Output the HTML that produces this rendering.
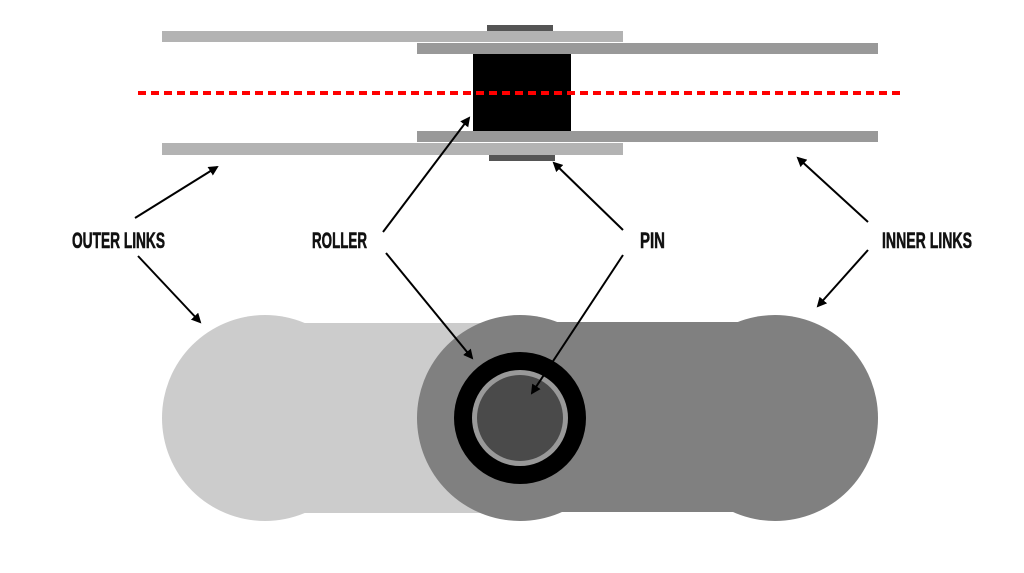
<!DOCTYPE html>
<html><head><style>
html,body{margin:0;padding:0;background:#fff;}
svg{display:block;}
text{font-family:"Liberation Sans Narrow","Liberation Sans",sans-serif;font-weight:bold;font-size:22px;fill:#111;stroke:#111;stroke-width:0.6;}
</style></head><body>
<svg width="1024" height="573" viewBox="0 0 1024 573" xmlns="http://www.w3.org/2000/svg">
<defs>
<marker id="ah" markerWidth="10" markerHeight="10" refX="8" refY="5" orient="auto" markerUnits="userSpaceOnUse">
<path d="M0,0 L10,5 L0,10 z" fill="#000"/>
</marker>
</defs>
<rect x="487" y="25" width="66" height="7" fill="#555"/>
<rect x="489" y="155" width="66" height="6" fill="#555"/>
<rect x="162" y="31" width="461" height="11" fill="#b3b3b3"/>
<rect x="417" y="43" width="461" height="11" fill="#999"/>
<rect x="473" y="54" width="98" height="77" fill="#000"/>
<rect x="417" y="131" width="461" height="11" fill="#999"/>
<rect x="162" y="143" width="461" height="12" fill="#b3b3b3"/>
<line x1="138" y1="93" x2="900" y2="93" stroke="#f00" stroke-width="4" stroke-dasharray="8,5"/>
<circle cx="265" cy="418" r="103" fill="#ccc"/>
<rect x="265" y="323" width="255" height="190" fill="#ccc"/>
<circle cx="775" cy="418" r="103" fill="#808080"/>
<rect x="520" y="322" width="255" height="190" fill="#808080"/>
<circle cx="520" cy="418" r="103" fill="#808080"/>
<circle cx="520" cy="418" r="66" fill="#000"/>
<circle cx="520" cy="418" r="48" fill="#999"/>
<circle cx="520" cy="418" r="43" fill="#4a4a4a"/>
<g stroke="#000" stroke-width="2" marker-end="url(#ah)">
<line x1="135" y1="218" x2="217" y2="167"/>
<line x1="138" y1="256" x2="200" y2="322"/>
<line x1="383" y1="232" x2="469" y2="118"/>
<line x1="386" y1="253" x2="472" y2="358"/>
<line x1="623" y1="230" x2="554" y2="163"/>
<line x1="623" y1="255" x2="532" y2="393"/>
<line x1="868" y1="222" x2="798" y2="158"/>
<line x1="868" y1="250" x2="818" y2="306"/>
</g>
<text x="72" y="248" textLength="93" lengthAdjust="spacingAndGlyphs">OUTER LINKS</text>
<text x="312" y="248" textLength="55" lengthAdjust="spacingAndGlyphs">ROLLER</text>
<text x="640" y="248" textLength="25" lengthAdjust="spacingAndGlyphs">PIN</text>
<text x="882" y="248" textLength="90" lengthAdjust="spacingAndGlyphs">INNER LINKS</text>
</svg>
</body></html>
